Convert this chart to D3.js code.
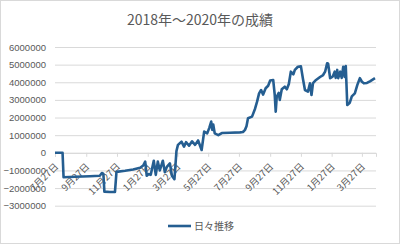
<!DOCTYPE html>
<html>
<head>
<meta charset="utf-8">
<script src="https://cdn.jsdelivr.net/npm/d3@7"></script>
<style>
  body { margin: 0; background: #fff; }
  text { font-family: "Noto Sans CJK JP", "Noto Sans", sans-serif; fill: #595959; }
</style>
</head>
<body>
<script>
// canvas size
var w = 400;
var h = 244;

// chart data
var title = "2018年～2020年の成績";
var seriesName = "日々推移";
var dates = [
  "2018-07-27","2018-08-11","2018-08-13","2018-09-05","2018-10-04","2018-10-24","2018-10-28","2018-10-31",
  "2018-11-02","2018-11-13","2018-11-23","2018-11-26","2018-12-13","2018-12-29",
  "2019-01-12","2019-01-18","2019-01-22","2019-01-25","2019-01-29","2019-02-02","2019-02-08","2019-02-12",
  "2019-02-16","2019-02-20","2019-02-26","2019-03-02","2019-03-06","2019-03-12","2019-03-16","2019-03-21",
  "2019-03-25","2019-03-28","2019-04-04","2019-04-09","2019-04-13","2019-04-19","2019-04-25","2019-05-01",
  "2019-05-07","2019-05-14","2019-05-19","2019-05-25","2019-05-29","2019-06-02","2019-06-04","2019-06-06",
  "2019-06-09","2019-06-16","2019-06-23","2019-07-09","2019-07-29","2019-08-04","2019-08-08","2019-08-11",
  "2019-08-14","2019-08-22","2019-08-28","2019-09-01","2019-09-05","2019-09-09","2019-09-13","2019-09-18",
  "2019-09-23","2019-09-27","2019-10-03","2019-10-06","2019-10-08","2019-10-10","2019-10-14","2019-10-16",
  "2019-10-20","2019-10-26","2019-10-30","2019-11-03","2019-11-07","2019-11-12","2019-11-15","2019-11-21",
  "2019-11-27","2019-12-01","2019-12-05","2019-12-11","2019-12-15","2019-12-18","2019-12-21","2019-12-27",
  "2020-01-04","2020-01-10","2020-01-14","2020-01-18","2020-01-20","2020-01-24","2020-01-29","2020-02-02",
  "2020-02-04","2020-02-07","2020-02-09","2020-02-13","2020-02-16","2020-02-19","2020-02-22","2020-02-24",
  "2020-02-27","2020-03-03","2020-03-07","2020-03-13","2020-03-18","2020-03-23","2020-03-27","2020-03-31",
  "2020-04-06","2020-04-12","2020-04-22"
];
var values = [
  0, 0, -1390000, -1360000, -1330000, -1300000, -1150000, -1180000,
  -2200000, -2220000, -2220000, -1080000, -1020000, -950000,
  -850000, -720000, -500000, -1300000, -1200000, -1250000, -450000, -1250000,
  -500000, -1000000, -450000, -1100000, -800000, -600000, -1300000, -1500000,
  100000, 450000, 630000, 350000, 600000, 400000, 650000, 450000,
  700000, 160000, 1200000, 1100000, 1400000, 1770000, 1300000, 1600000,
  1100000, 1000000, 1120000, 1140000, 1160000, 1180000, 1300000, 1500000,
  1960000, 2050000, 2500000, 2900000, 3370000, 3560000, 3300000, 3660000,
  3800000, 4100000, 4130000, 3300000, 2330000, 3180000, 3400000, 3000000,
  3600000, 3750000, 3600000, 3900000, 4600000, 4450000, 4700000, 4880000,
  4900000, 4200000, 3560000, 3470000, 3940000, 3280000, 3950000, 4130000,
  4300000, 4410000, 4600000, 5080000, 5050000, 4230000, 4320000, 4600000,
  4250000, 4700000, 4230000, 4600000, 4250000, 4880000, 4300000, 4920000,
  2710000, 2840000, 3200000, 3370000, 3850000, 4230000, 4030000, 3940000,
  3960000, 4050000, 4230000
];
var yTicks = [6000000, 5000000, 4000000, 3000000, 2000000, 1000000, 0, -1000000, -2000000, -3000000];
var xTicks = [
  "2018-07-27","2018-09-27","2018-11-27","2019-01-27","2019-03-27","2019-05-27",
  "2019-07-27","2019-09-27","2019-11-27","2020-01-27","2020-03-27"
];
var xStart = "2018-07-27";
var xEnd = "2020-04-24";

var parse = d3.timeParse("%Y-%m-%d");
var data = dates.map(function(d, i) { return { date: parse(d), value: values[i] }; });

// plot area
var plotLeft = 55, plotRight = 376, plotTop = 47, plotBottom = 205.7;

var svg = d3.select("body").append("svg")
  .attr("width", w)
  .attr("height", h);

// chart border
svg.append("rect")
  .attr("x", 0.5).attr("y", 0.5)
  .attr("width", w - 1).attr("height", h - 1)
  .attr("fill", "#fff")
  .attr("stroke", "#d9d9d9");

var x = d3.scaleTime()
  .domain([parse(xStart), parse(xEnd)])
  .range([plotLeft, plotRight]);

var y = d3.scaleLinear()
  .domain([-3000000, 6000000])
  .range([plotBottom, plotTop]);

// title
svg.append("text")
  .attr("x", w / 2)
  .attr("y", 25)
  .attr("text-anchor", "middle")
  .attr("font-size", "14px")
  .text(title);

// y gridlines + labels
var yAxis = d3.axisLeft(y)
  .tickValues(yTicks)
  .tickSize(-(plotRight - plotLeft))
  .tickPadding(9)
  .tickFormat(d3.format("d"));

svg.append("g")
  .attr("transform", "translate(" + plotLeft + ",0)")
  .call(yAxis)
  .call(function(g) {
    g.select(".domain").remove();
    g.selectAll(".tick line").attr("stroke", "#d9d9d9");
    g.selectAll(".tick text")
      .attr("fill", "#595959")
      .attr("font-size", "9.5px")
      .style("font-family", "'Liberation Sans', sans-serif");
  });

// x axis at zero line
var xAxis = d3.axisBottom(x)
  .tickValues(xTicks.map(parse))
  .tickSize(4)
  .tickFormat(d3.timeFormat("%-m月%-d日"));

svg.append("g")
  .attr("transform", "translate(0," + y(0) + ")")
  .call(xAxis)
  .call(function(g) {
    g.select(".domain").attr("stroke", "#d9d9d9");
    g.selectAll(".tick line").attr("stroke", "#d9d9d9");
    g.selectAll(".tick text")
      .attr("fill", "#595959")
      .attr("font-size", "9.5px")
      .attr("text-anchor", "end")
      .attr("y", 0)
      .attr("dy", "0.35em")
      .attr("transform", "translate(1,12) rotate(-45)");
  });

// the line
var line = d3.line()
  .x(function(d) { return x(d.date); })
  .y(function(d) { return y(d.value); });

svg.append("path")
  .datum(data)
  .attr("fill", "none")
  .attr("stroke", "#255e91")
  .attr("stroke-width", 2.6)
  .attr("stroke-linejoin", "round")
  .attr("d", line);

// legend
svg.append("line")
  .attr("x1", 168).attr("x2", 191)
  .attr("y1", 226).attr("y2", 226)
  .attr("stroke", "#255e91")
  .attr("stroke-width", 2.6);

svg.append("text")
  .attr("x", 194)
  .attr("y", 229.5)
  .attr("font-size", "10px")
  .text(seriesName);
</script>
</body>
</html>
